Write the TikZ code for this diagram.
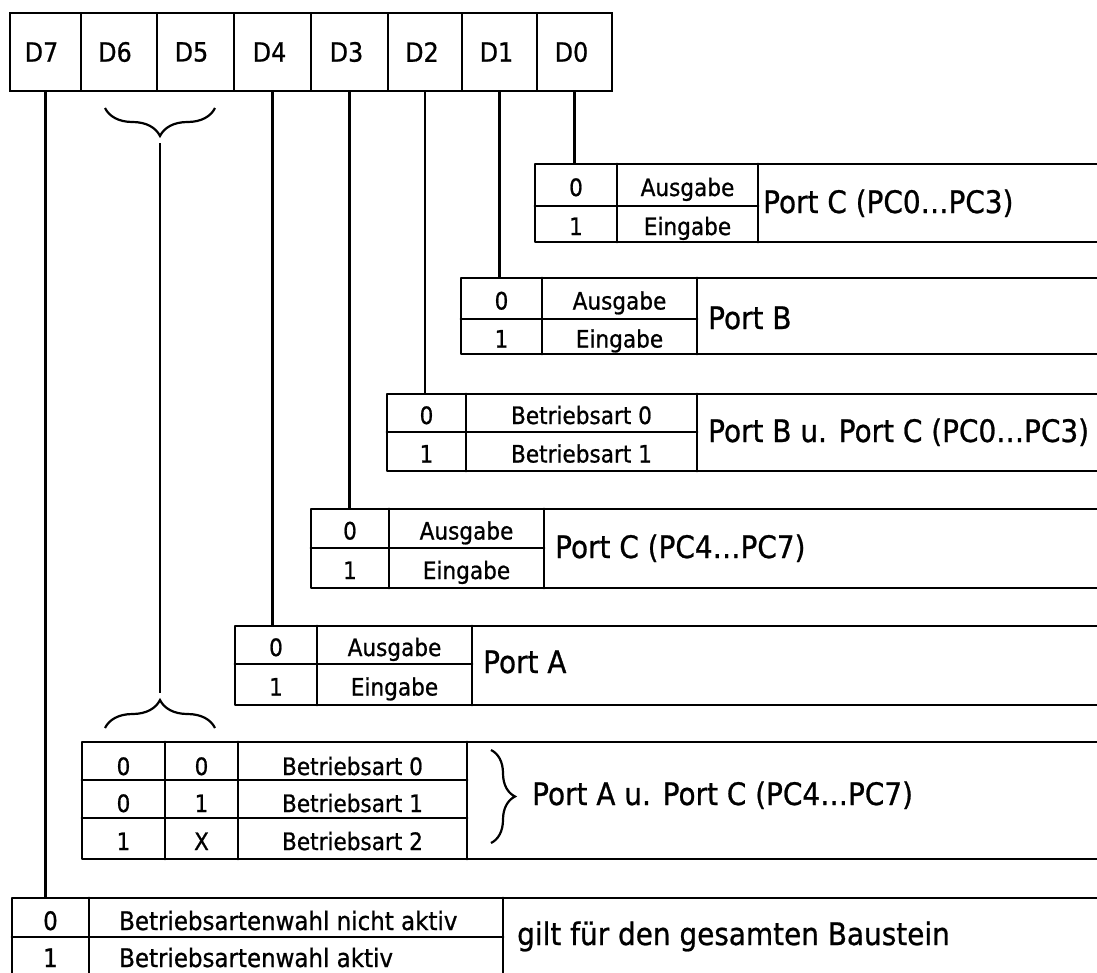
\documentclass[tikz,border=0pt]{standalone}
\usepackage{fontspec}
\setmainfont{DejaVu Sans}[FakeStretch=0.9, FakeBold=0.8]
\usetikzlibrary{decorations.pathreplacing}
\tikzset{
  frame/.style={line width=2.8pt, line cap=round, line join=round},
  conn/.style={line width=2.2pt},
  regcell/.style={draw, line width=2.8pt, minimum height=78pt, inner sep=0pt, outer sep=0pt, font=\fontsize{26.5}{30}\selectfont},
  celltxt/.style={inner sep=0pt, anchor=base, font=\fontsize{24}{27}\selectfont},
  bottxt/.style={inner sep=0pt, anchor=base, font=\fontsize{25.5}{28}\selectfont},
  bigtxt/.style={inner sep=0pt, anchor=base west, font=\fontsize{31}{35}\selectfont},
  brc/.style={line width=2.2pt, decorate, decoration={brace, amplitude=#1}},
}
% #1 name, #2 left, #3 col1, #4 col2, #5 top, #6 mid, #7 bottom, #8 row-1 text, #9 row-2 text
\newcommand\porttab[9]{%
  \draw[frame] (1100,#5) -- (#2,#5) -- (#2,#7) -- (1100,#7);
  \draw[frame] (#3,#5) -- (#3,#7) (#4,#5) -- (#4,#7) (#2,#6) -- (#4,#6);
  \coordinate (#1) at (#2,#5);
  \node[celltxt] (#1-a0) at ({(#2+#3)/2},{(#5+#6)/2+11}) {0};
  \node[celltxt] (#1-a1) at ({(#3+#4)/2},{(#5+#6)/2+11}) {#8};
  \node[celltxt] (#1-b0) at ({(#2+#3)/2},{(#6+#7)/2+11}) {1};
  \node[celltxt] (#1-b1) at ({(#3+#4)/2},{(#6+#7)/2+11}) {#9};
}
\begin{document}
\begin{tikzpicture}[x=1pt,y=-1pt]
\fill[white] (0,0) rectangle (1097,972);
\path[use as bounding box] (0,0) rectangle (1097,972);
\clip (0,0) rectangle (1097,972);

% register
\node[regcell, minimum width=71pt] (d7) at (45.5,52) {\hspace*{-8pt}D7};
\node[regcell, minimum width=76pt] (d6) at (119,52) {\hspace*{-8pt}D6};
\node[regcell, minimum width=77pt] (d5) at (195.5,52) {\hspace*{-8pt}D5};
\node[regcell, minimum width=77pt] (d4) at (272.5,52) {\hspace*{-6pt}D4};
\node[regcell, minimum width=77pt] (d3) at (349.5,52) {\hspace*{-6pt}D3};
\node[regcell, minimum width=74pt] (d2) at (425,52) {\hspace*{-6pt}D2};
\node[regcell, minimum width=75pt] (d1) at (499.5,52) {\hspace*{-6pt}D1};
\node[regcell, minimum width=75pt] (d0) at (574.5,52) {\hspace*{-6pt}D0};

% port tables
\porttab{pc03}{535}{617}{758}{164}{206}{242}{Ausgabe}{Eingabe}
\porttab{pb}{461}{542}{697}{278}{319}{354}{Ausgabe}{Eingabe}
\porttab{pbc}{387}{466}{697}{394}{432}{471}{Betriebsart 0}{Betriebsart 1}
\porttab{pc47}{311}{389}{544}{509}{548}{588}{Ausgabe}{Eingabe}
\porttab{pa}{235}{317}{472}{626}{664}{705}{Ausgabe}{Eingabe}

\node[bigtxt] (lc03) at (763,213) {Port C (PC0…PC3)};
\node[bigtxt] (lb) at (708,329) {Port B};
\node[bigtxt] (lbc) at (708,442) {Port B u. Port C (PC0…PC3)};
\node[bigtxt] (lc47) at (555,558) {Port C (PC4…PC7)};
\node[bigtxt] (la) at (483,673) {Port A};

% mode table
\draw[frame] (1100,742) -- (82,742) -- (82,859) -- (1100,859);
\draw[frame] (165,742) -- (165,859) (238,742) -- (238,859) (467,742) -- (467,859)
  (82,780) -- (467,780) (82,818) -- (467,818);
\coordinate (mode) at (82,742);
\node[celltxt] (m1a) at (123.5,775) {0};
\node[celltxt] (m1b) at (201.5,775) {0};
\node[celltxt] (m1c) at (352.5,775) {Betriebsart 0};
\node[celltxt] (m2a) at (123.5,812) {0};
\node[celltxt] (m2b) at (201.5,812) {1};
\node[celltxt] (m2c) at (352.5,812) {Betriebsart 1};
\node[celltxt] (m3a) at (123.5,850) {1};
\node[celltxt] (m3b) at (201.5,850) {X};
\node[celltxt] (m3c) at (352.5,850) {Betriebsart 2};
\draw[brc=24] (491,750) -- (491,843);
\node[bigtxt] (lac) at (532,805) {Port A u. Port C (PC4…PC7)};

% bottom table
\draw[frame] (1100,898) -- (12,898) -- (12,976) -- (1100,976);
\draw[frame] (89,898) -- (89,976) (503,898) -- (503,976) (12,937) -- (503,937);
\coordinate (bot) at (12,898);
\node[bottxt] (b1a) at (50.5,930) {0};
\node[bottxt, anchor=base west] (b1b) at (119,930) {Betriebsartenwahl nicht aktiv};
\node[bottxt] (b2a) at (50.5,967) {1};
\node[bottxt, anchor=base west] (b2b) at (119,967) {Betriebsartenwahl aktiv};
\node[bigtxt] (lall) at (517,945) {gilt für den gesamten Baustein};

% connectors
\draw[conn] (d0.south) -- (d0.south |- pc03);
\draw[conn] (d1.south) -- (d1.south |- pb);
\draw[conn] (d2.south) -- (d2.south |- pbc);
\draw[conn] (d3.south) -- (d3.south |- pc47);
\draw[conn] (d4.south) -- (d4.south |- pa);
\draw[conn] (d7.south) -- (d7.south |- bot);

% braces for D6/D5
\draw[brc=28] (215,108) -- (105,108);
\draw[brc=28] (105,728) -- (215,728);
\coordinate (bt1) at (160,143);
\coordinate (bt2) at (160,693);
\draw[conn] (bt1) -- (bt2);
\end{tikzpicture}
\end{document}
